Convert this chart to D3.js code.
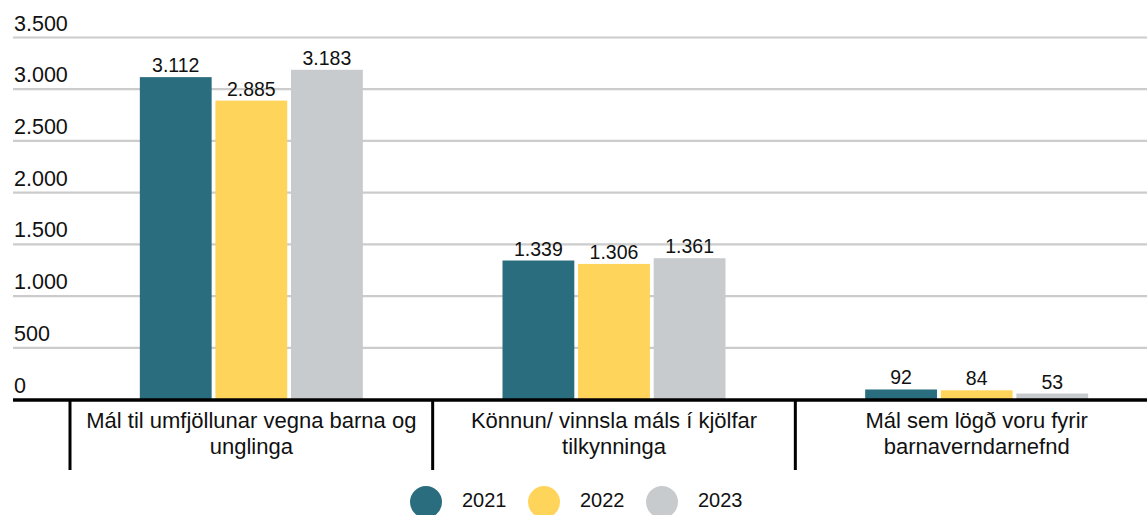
<!DOCTYPE html>
<html><head><meta charset="utf-8">
<script src="https://cdn.jsdelivr.net/npm/d3@7"></script>
<style>
html,body{margin:0;padding:0;background:#fff;overflow:hidden;}
text{font-family:"Liberation Sans",Arial,sans-serif;fill:#111;}
</style></head>
<body>
<svg id="c" width="1147" height="515"></svg>
<script>
const categories = [
  ["Mál til umfjöllunar vegna barna og", "unglinga"],
  ["Könnun/ vinnsla máls í kjölfar", "tilkynninga"],
  ["Mál sem lögð voru fyrir", "barnaverndarnefnd"]
];
const seriesNames = ["2021", "2022", "2023"];
const values2021 = [3112, 1339, 92];
const values2022 = [2885, 1306, 84];
const values2023 = [3183, 1361, 53];
const yTicks = [0, 500, 1000, 1500, 2000, 2500, 3000, 3500];
const colors = ["#2a6d7e", "#ffd45a", "#c7cbce"];

const seriesValues = [values2021, values2022, values2023];
const loc = d3.formatLocale({decimal: ",", thousands: ".", grouping: [3], currency: ["", ""]});
const fmt = loc.format(",d");

const svg = d3.select("#c");
const left = 13, right = 1147;
const y = d3.scaleLinear().domain([0, 3500]).range([399, 37]);
const catIdx = categories.map((d, i) => i);
const x0 = d3.scaleBand().domain(catIdx).range([70, 1158]).padding(0);
const bw = x0.bandwidth();
const groupW = 223;
const x1 = d3.scaleBand().domain(seriesNames).range([(bw - groupW) / 2, (bw + groupW) / 2]).paddingInner(0.05).paddingOuter(0);

// gridlines
const yAxis = d3.axisLeft(y).tickValues(yTicks).tickSize(-(right - left)).tickFormat(fmt);
const gy = svg.append("g").attr("transform", `translate(${left},0)`).call(yAxis);
gy.select(".domain").remove();
gy.selectAll(".tick line").attr("stroke", "#cccccc").attr("stroke-width", 2.2);
gy.selectAll(".tick line").filter(d => d === 0).remove();
gy.selectAll(".tick text")
  .attr("x", 1).attr("dy", null).attr("y", -7)
  .attr("text-anchor", "start")
  .style("font-family", '"Liberation Sans",Arial,sans-serif')
  .style("font-size", "21.5px").attr("fill", "#111");

// bars
const groups = svg.append("g").selectAll("g").data(catIdx).join("g")
  .attr("transform", d => `translate(${x0(d)},0)`);
groups.selectAll("rect")
  .data(i => seriesNames.map((s, k) => ({s, k, v: seriesValues[k][i]})))
  .join("rect")
  .attr("x", d => x1(d.s))
  .attr("width", x1.bandwidth())
  .attr("y", d => y(d.v))
  .attr("height", d => y(0) - y(d.v))
  .attr("fill", d => colors[d.k]);
groups.selectAll("text.lbl")
  .data(i => seriesNames.map((s, k) => ({s, k, v: seriesValues[k][i]})))
  .join("text").attr("class", "lbl")
  .attr("x", d => x1(d.s) + x1.bandwidth() / 2)
  .attr("y", d => y(d.v) - 5)
  .attr("text-anchor", "middle")
  .style("font-size", "19.5px")
  .text(d => fmt(d.v));

// x axis
const xAxis = d3.axisBottom(x0).tickSize(0).tickFormat(() => "");
const gx = svg.append("g").attr("transform", `translate(0,${y(0) + 1})`).call(xAxis);
gx.select(".domain").remove();
svg.append("line").attr("x1", left).attr("x2", right).attr("y1", y(0) + 1).attr("y2", y(0) + 1)
  .attr("stroke", "#000").attr("stroke-width", 3.5);
// separators at band edges
const edges = catIdx.map(i => x0(i)).concat([x0(catIdx[catIdx.length - 1]) + bw]);
svg.append("g").selectAll("line").data(edges).join("line")
  .attr("x1", d => d).attr("x2", d => d)
  .attr("y1", y(0)).attr("y2", 470)
  .attr("stroke", "#000").attr("stroke-width", 3);
// category labels
const cl = svg.append("g").selectAll("text").data(catIdx).join("text")
  .attr("text-anchor", "middle")
  .attr("x", i => x0(i) + bw / 2)
  .attr("y", 428)
  .style("font-size", "22px");
cl.selectAll("tspan").data(i => categories[i]).join("tspan")
  .attr("x", function() { return d3.select(this.parentNode).attr("x"); })
  .attr("dy", (d, j) => j === 0 ? 0 : 26)
  .text(d => d);

// legend
const lx = [426, 544, 662];
const lg = svg.append("g").selectAll("g").data(seriesNames).join("g")
  .attr("transform", (d, i) => `translate(${lx[i]},502)`);
lg.append("circle").attr("r", 16).attr("fill", (d, i) => colors[i]);
lg.append("text").attr("x", 36).attr("y", 5).style("font-size", "20px").text(d => d);
</script>
</body></html>
